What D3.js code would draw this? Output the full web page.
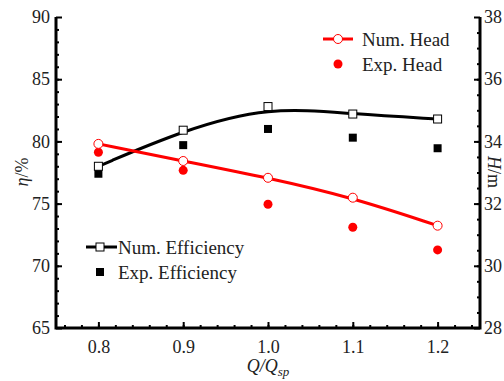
<!DOCTYPE html>
<html>
<head>
<meta charset="utf-8">
<script src="https://cdn.jsdelivr.net/npm/d3@7"></script>
<style>
    body { margin: 0; background: #fff; }
    text { font-family: "Liberation Serif", "Times New Roman", serif; }
</style>
</head>
<body>
<div id="chart"></div>
<script>
var flowRatio = [0.8, 0.9, 1.0, 1.1, 1.2];
var numEfficiency = [78.0, 80.9, 82.8, 82.2, 81.8];
var expEfficiency = [77.4, 79.7, 81.0, 80.3, 79.45];
var numHead = [33.92, 33.37, 32.83, 32.19, 31.29];
var expHead = [33.65, 33.07, 31.98, 31.24, 30.51];
var xTicks = [0.8, 0.9, 1.0, 1.1, 1.2];
var etaTicks = [65, 70, 75, 80, 85, 90];
var headTicks = [28, 30, 32, 34, 36, 38];

var width = 504, height = 381;
var plotLeft = 56, plotRight = 480, plotTop = 17, plotBottom = 328;

var svg = d3.select('#chart').append('svg')
    .attr('width', width)
    .attr('height', height);

var x = d3.scaleLinear().domain([0.75, 1.25]).range([plotLeft, plotRight]);
var yEta = d3.scaleLinear().domain([65, 90]).range([plotBottom, plotTop]);
var yHead = d3.scaleLinear().domain([28, 38]).range([plotBottom, plotTop]);

function styleAxis(g) {
    g.select('.domain').remove();
    g.selectAll('.tick line').style('stroke', 'black').style('stroke-width', '2px');
    g.selectAll('.tick text').style('font-size', '18px').style('fill', '#222')
        .style('font-family', '"Liberation Serif", serif');
}

// minor ticks
svg.append('g').attr('transform', 'translate(0,' + plotBottom + ')')
    .call(d3.axisBottom(x).tickValues(d3.range(0.76, 1.25, 0.02)).tickSize(-3).tickFormat(''))
    .call(styleAxis);
svg.append('g').attr('transform', 'translate(' + plotLeft + ',0)')
    .call(d3.axisLeft(yEta).tickValues(d3.range(66, 90, 1)).tickSize(-3).tickFormat(''))
    .call(styleAxis);
svg.append('g').attr('transform', 'translate(' + plotRight + ',0)')
    .call(d3.axisRight(yHead).tickValues(d3.range(28.5, 38, 0.5)).tickSize(-3).tickFormat(''))
    .call(styleAxis);

// major ticks
svg.append('g').attr('transform', 'translate(0,' + plotBottom + ')')
    .call(d3.axisBottom(x).tickValues(xTicks).tickSize(-6).tickPadding(12).tickFormat(d3.format('.1f')))
    .call(styleAxis)
    .selectAll('.tick text').attr('y', 12);
var gl = svg.append('g').attr('transform', 'translate(' + plotLeft + ',0)')
    .call(d3.axisLeft(yEta).tickValues(etaTicks).tickSize(-6))
    .call(styleAxis);
var gr = svg.append('g').attr('transform', 'translate(' + plotRight + ',0)')
    .call(d3.axisRight(yHead).tickValues(headTicks).tickSize(-6))
    .call(styleAxis);
gr.selectAll('.tick text').attr('x', 4);
gl.selectAll('.tick text').attr('x', -6);

// frame lines (left, bottom, right)
svg.append('path')
    .attr('d', 'M' + plotLeft + ',' + plotTop + 'V' + plotBottom + 'H' + plotRight + 'V' + plotTop)
    .style('fill', 'none')
    .style('stroke', 'black')
    .style('stroke-width', '3px');

// curves
var effLine = d3.line()
    .x(function (d, i) { return x(flowRatio[i]); })
    .y(function (d) { return yEta(d); })
    .curve(d3.curveBasis);
var headLine = d3.line()
    .x(function (d, i) { return x(flowRatio[i]); })
    .y(function (d) { return yHead(d); })
    .curve(d3.curveBasis);

svg.append('path').datum(numEfficiency)
    .attr('d', effLine)
    .style('fill', 'none').style('stroke', 'black').style('stroke-width', '3px');
svg.append('path').datum(numHead)
    .attr('d', headLine)
    .style('fill', 'none').style('stroke', '#ff0000').style('stroke-width', '3px');

// markers
svg.selectAll('.expEff').data(expEfficiency).enter().append('rect')
    .attr('x', function (d, i) { return x(flowRatio[i]) - 4; })
    .attr('y', function (d) { return yEta(d) - 4; })
    .attr('width', 8).attr('height', 8)
    .style('fill', 'black');
svg.selectAll('.numEff').data(numEfficiency).enter().append('rect')
    .attr('x', function (d, i) { return x(flowRatio[i]) - 4; })
    .attr('y', function (d) { return yEta(d) - 4; })
    .attr('width', 8).attr('height', 8)
    .style('fill', 'white').style('stroke', 'black').style('stroke-width', '1px');
svg.selectAll('.expHead').data(expHead).enter().append('circle')
    .attr('cx', function (d, i) { return x(flowRatio[i]); })
    .attr('cy', function (d) { return yHead(d); })
    .attr('r', 4.5)
    .style('fill', '#ff0000');
svg.selectAll('.numHead').data(numHead).enter().append('circle')
    .attr('cx', function (d, i) { return x(flowRatio[i]); })
    .attr('cy', function (d) { return yHead(d); })
    .attr('r', 4.5)
    .style('fill', 'white').style('stroke', '#ff0000').style('stroke-width', '1px');

// legends
function legendText(tx, ty, label) {
    svg.append('text').attr('x', tx).attr('y', ty)
        .style('font-size', '19px').style('fill', '#222')
        .text(label);
}
svg.append('line').attr('x1', 323).attr('x2', 353).attr('y1', 39).attr('y2', 39)
    .style('stroke', '#ff0000').style('stroke-width', '3px');
svg.append('circle').attr('cx', 338).attr('cy', 39).attr('r', 4.5)
    .style('fill', 'white').style('stroke', '#ff0000');
legendText(362, 46, 'Num. Head');
svg.append('circle').attr('cx', 338).attr('cy', 64).attr('r', 4.5).style('fill', '#ff0000');
legendText(362, 71, 'Exp. Head');

svg.append('line').attr('x1', 86).attr('x2', 117).attr('y1', 247).attr('y2', 247)
    .style('stroke', 'black').style('stroke-width', '3px');
svg.append('rect').attr('x', 96).attr('y', 243).attr('width', 8).attr('height', 8)
    .style('fill', 'white').style('stroke', 'black');
legendText(118, 254, 'Num. Efficiency');
svg.append('rect').attr('x', 96).attr('y', 268).attr('width', 8).attr('height', 8)
    .style('fill', 'black');
legendText(118, 279, 'Exp. Efficiency');

// axis titles
var lt = svg.append('text').attr('transform', 'translate(28,172) rotate(-90)')
    .attr('text-anchor', 'middle').style('font-size', '18px').style('fill', '#222');
lt.append('tspan').style('font-style', 'italic').text('η');
lt.append('tspan').text('/%');

var rt = svg.append('text').attr('transform', 'translate(488,172) rotate(90)')
    .attr('text-anchor', 'middle').style('font-size', '18px').style('fill', '#222');
rt.append('tspan').style('font-style', 'italic').text('H');
rt.append('tspan').text('/m');

var bt = svg.append('text').attr('x', 268).attr('y', 372)
    .attr('text-anchor', 'middle').style('font-size', '18px').style('fill', '#222')
    .style('font-style', 'italic');
bt.append('tspan').text('Q/Q');
bt.append('tspan').attr('dy', 4).style('font-size', '13px').text('sp');
</script>
</body>
</html>
